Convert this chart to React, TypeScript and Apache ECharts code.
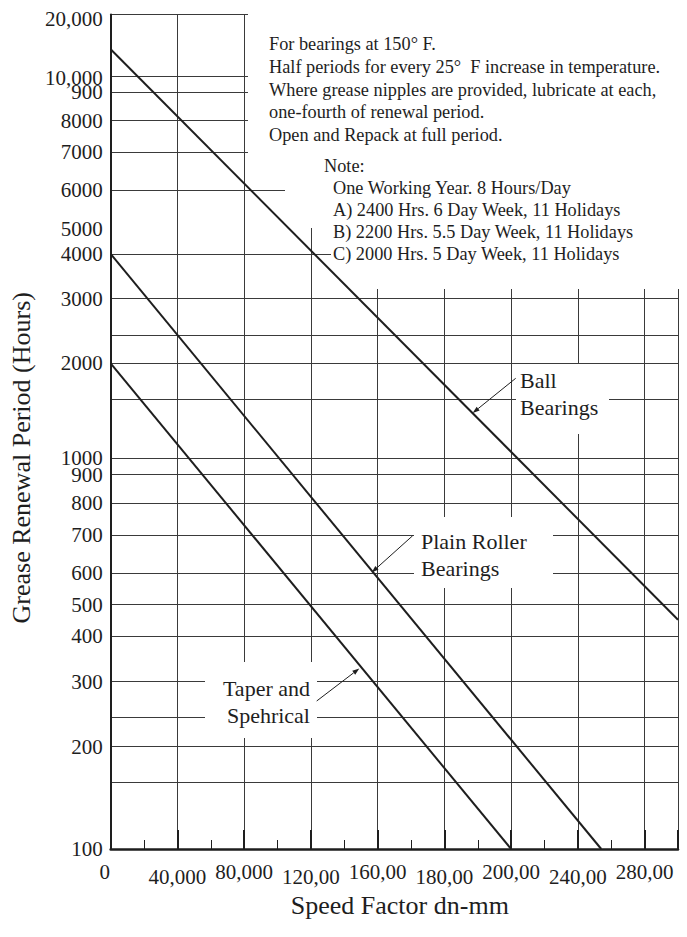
import React, { useEffect, useRef } from "react";
import * as echarts from "echarts";

// ---- data ----
const xTickValues = [0, 40000, 80000, 120000, 160000, 200000, 240000, 280000, 320000];
const xTickLabels = ["0", "40,000", "80,000", "120,00", "160,00", "180,00", "200,00", "240,00", "280,00"];

// printed (non-uniform) hour scale: value -> level (% of plot height from the 100 line)
const yScaleHours = [100, 150, 200, 250, 300, 400, 500, 600, 700, 800, 900, 1000, 1500, 2000, 2500, 3000, 4000, 5000, 6000, 7000, 8000, 9000, 10000, 20000];
const yScaleLevel = [0, 8.02, 12.28, 15.79, 20.06, 25.47, 29.28, 33.1, 37.63, 41.44, 44.85, 46.81, 53.91, 58.2, 61.62, 65.95, 71.31, 74.29, 78.99, 83.52, 87.28, 90.67, 92.65, 100];

const yGridHours = [100, 150, 200, 250, 300, 400, 500, 600, 700, 800, 900, 1000, 1500, 2000, 2500, 3000, 4000, 6000, 7000, 8000, 9000, 10000, 20000];
const yLabelHours = [100, 200, 300, 400, 500, 600, 700, 800, 900, 1000, 2000, 3000, 4000, 5000, 6000, 7000, 8000, 9000, 10000, 20000];
const yLabelTexts = ["100", "200", "300", "400", "500", "600", "700", "800", "900", "1000", "2000", "3000", "4000", "5000", "6000", "7000", "8000", "900", "10,000", "20,000"];

const ballSpeed = [0, 340000];
const ballHours = [13500, 450];
const rollerSpeed = [0, 294000];
const rollerHours = [4000, 100];
const taperSpeed = [0, 240000];
const taperHours = [2000, 100];

const noteLines1 = [
  "For bearings at 150° F.",
  "Half periods for every 25°  F increase in temperature.",
  "Where grease nipples are provided, lubricate at each,",
  "one-fourth of renewal period.",
  "Open and Repack at full period.",
];
const noteLines2 = [
  "Note:",
  "One Working Year. 8 Hours/Day",
  "A) 2400 Hrs. 6 Day Week, 11 Holidays",
  "B) 2200 Hrs. 5.5 Day Week, 11 Holidays",
  "C) 2000 Hrs. 5 Day Week, 11 Holidays",
];

const FONT = '"Liberation Serif", "Times New Roman", serif';
const INK = "#1e1e1e";
const GRID = "#3a3a3a";

function level(h: number): number {
  const n = yScaleHours.length;
  if (h <= yScaleHours[0]) return yScaleLevel[0];
  for (let i = 0; i < n - 1; i++) {
    const a = yScaleHours[i];
    const b = yScaleHours[i + 1];
    if (h <= b) {
      const t = (Math.log(h) - Math.log(a)) / (Math.log(b) - Math.log(a));
      return yScaleLevel[i] + t * (yScaleLevel[i + 1] - yScaleLevel[i]);
    }
  }
  return yScaleLevel[n - 1];
}

function toSeries(speed: number[], hours: number[]) {
  return speed.map((s, i) => [s, level(hours[i])]);
}

function arrow(x1: number, y1: number, x2: number, y2: number) {
  const dx = x2 - x1;
  const dy = y2 - y1;
  const L = Math.sqrt(dx * dx + dy * dy);
  const ux = dx / L;
  const uy = dy / L;
  const len = 7;
  const half = 2.4;
  const bx = x2 - ux * len;
  const by = y2 - uy * len;
  return [
    { type: "line", z: 12, silent: true, shape: { x1, y1, x2: bx, y2: by }, style: { stroke: INK, lineWidth: 1 } },
    {
      type: "polygon",
      z: 12,
      silent: true,
      shape: { points: [[x2, y2], [bx - uy * half, by + ux * half], [bx + uy * half, by - ux * half]] },
      style: { fill: INK },
    },
  ];
}

function txt(text: string, x: number, y: number, size: number, align = "left") {
  return {
    type: "text",
    z: 12,
    silent: true,
    x,
    y,
    style: {
      text,
      fill: INK,
      font: `${size}px ${FONT}`,
      align,
      textAlign: align,
      verticalAlign: "middle",
      textVerticalAlign: "middle",
    },
  };
}

function mask(x: number, y: number, w: number, h: number) {
  return { type: "rect", z: 1, silent: true, shape: { x, y, width: w, height: h }, style: { fill: "#ffffff" } };
}

export default function App() {
  const ref = useRef<HTMLDivElement>(null);

  useEffect(() => {
    if (!ref.current) return;
    const chart = echarts.init(ref.current, null, { renderer: "svg" });

    const yLabelLevels = yLabelHours.map(level);

    const graphics: any[] = [
      mask(248, 0, 440, 160),
      mask(285, 155, 400, 73),
      mask(331, 228, 355, 61),
      mask(516, 364, 93, 70),
      mask(414, 517, 139, 71),
      mask(205, 662, 112, 76),
    ];
    noteLines1.forEach((t, i) => graphics.push(txt(t, 269, 44 + i * 22.75, 18.3)));
    noteLines2.forEach((t, i) => graphics.push(txt(t, i === 0 ? 324 : 333, 165.7 + i * 22, 18.3)));
    graphics.push(txt("Ball", 520, 380, 22));
    graphics.push(txt("Bearings", 520, 407, 22));
    graphics.push(txt("Plain Roller", 421, 541, 22));
    graphics.push(txt("Bearings", 421, 568, 22));
    graphics.push(txt("Taper and", 310, 688, 22, "right"));
    graphics.push(txt("Spehrical", 310, 715, 22, "right"));
    graphics.push(...arrow(515.7, 378.3, 472.7, 413));
    graphics.push(...arrow(412.7, 535.7, 371.7, 572.5));
    graphics.push(...arrow(316.7, 701, 359.3, 668.5));

    const lineStyle = { color: INK, width: 2 };
    const base = { fontFamily: FONT, fontSize: 21, color: INK, lineHeight: 21 };

    chart.setOption({
      animation: false,
      backgroundColor: "#ffffff",
      grid: { left: 107, right: 9, top: 11, bottom: 88, containLabel: false },
      xAxis: {
        type: "value",
        min: 0,
        max: 340000,
        interval: 40000,
        name: "Speed Factor dn-mm",
        nameLocation: "middle",
        nameGap: 43,
        nameTextStyle: { fontFamily: FONT, fontSize: 26, color: INK, padding: [0, 0, 0, 11] },
        axisLine: { show: true, onZero: false, lineStyle: { color: INK, width: 2.5 } },
        axisTick: { show: true, inside: true, length: 19, lineStyle: { color: INK, width: 2 } },
        minorTick: { show: true, splitNumber: 2, length: 9, lineStyle: { color: INK, width: 1 } },
        splitLine: { show: true, lineStyle: { color: GRID, width: 1 } },
        axisLabel: {
          margin: 12,
          fontFamily: FONT,
          fontSize: 21,
          color: INK,
          formatter: (v: number) => {
            const i = xTickValues.indexOf(v);
            if (i < 0) return "";
            if (i === 0) return `{zero|${xTickLabels[i]}}`;
            return i % 2 === 1 ? `{lo|${xTickLabels[i]}}` : `{hi|${xTickLabels[i]}}`;
          },
          rich: {
            zero: { ...base, padding: [0, 12, 0, 0] },
            hi: { ...base },
            lo: { ...base, padding: [10, 0, 0, 0] },
          },
        },
      },
      yAxis: {
        type: "value",
        min: 0,
        max: 100,
        name: "Grease Renewal Period (Hours)",
        nameLocation: "middle",
        nameRotate: 90,
        nameGap: 72,
        nameTextStyle: { fontFamily: FONT, fontSize: 26, color: INK, padding: [0, 52, 0, 0] },
        axisLine: { show: true, lineStyle: { color: INK, width: 2 } },
        axisTick: { show: false, customValues: yGridHours.map(level) },
        splitLine: { show: true, lineStyle: { color: GRID, width: 1 } },
        axisLabel: {
          customValues: yLabelLevels,
          margin: 8,
          fontFamily: FONT,
          fontSize: 21,
          color: INK,
          formatter: (v: number) => {
            let best = -1;
            let bd = 1e9;
            yLabelLevels.forEach((l, i) => {
              const d = Math.abs(l - v);
              if (d < bd) {
                bd = d;
                best = i;
              }
            });
            if (best < 0 || bd >= 0.01) return "";
            if (best === yLabelTexts.length - 1) return `{top|${yLabelTexts[best]}}`;
            if (best === yLabelTexts.length - 2) return `{ten|${yLabelTexts[best]}}`;
            return yLabelTexts[best];
          },
          rich: {
            top: { ...base, padding: [8, 0, 0, 0] },
            ten: { ...base, padding: [4, 0, 0, 0] },
          },
        },
      },
      graphic: { elements: graphics },
      series: [
        { name: "Ball Bearings", type: "line", data: toSeries(ballSpeed, ballHours), symbol: "none", lineStyle, z: 3 },
        { name: "Plain Roller Bearings", type: "line", data: toSeries(rollerSpeed, rollerHours), symbol: "none", lineStyle, z: 3 },
        { name: "Taper and Spehrical", type: "line", data: toSeries(taperSpeed, taperHours), symbol: "none", lineStyle, z: 3 },
      ],
    });

    return () => chart.dispose();
  }, []);

  return <div ref={ref} style={{ position: "absolute", left: 0, top: 0, width: 687, height: 937, background: "#fff" }} />;
}
